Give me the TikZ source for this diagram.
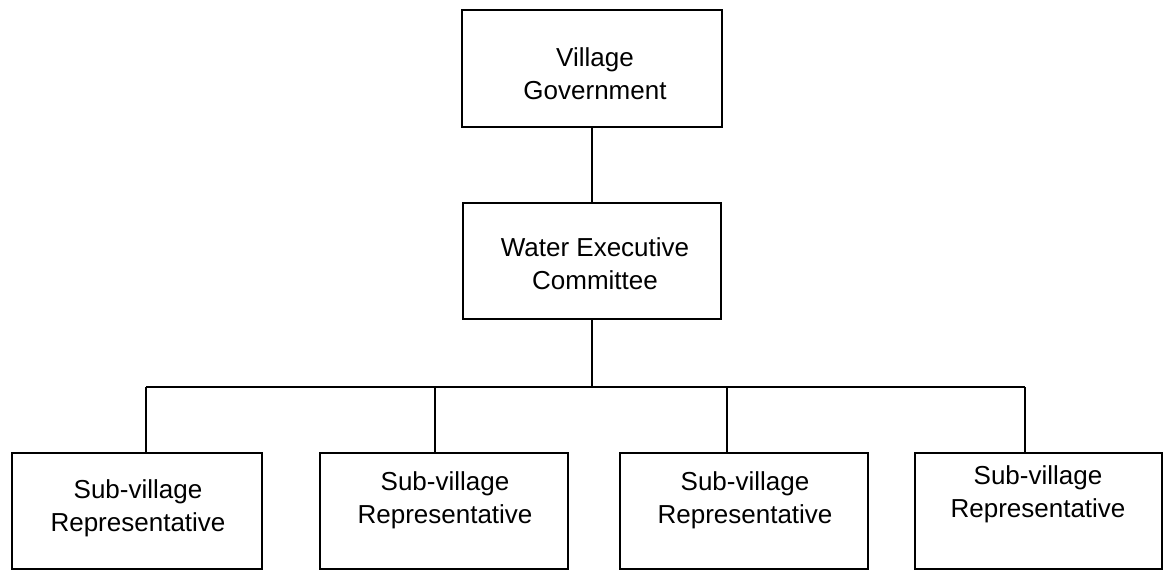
\documentclass[tikz,border=0pt]{standalone}
\usepackage{fontspec}
\setmainfont{Liberation Sans}
\begin{document}
\begin{tikzpicture}[x=1pt,y=1pt,
  box/.style={draw=black, line width=2pt, inner sep=0pt},
  txt/.style={align=center, inner sep=0pt, font=\fontsize{26}{33}\selectfont},
  link/.style={draw=black, line width=1.8pt}]
\useasboundingbox (0,0) rectangle (1164,571);

% upper levels
\node[box, minimum width=260, minimum height=117] (vg) at (592,502.5) {};
\node[txt] (vgt) at (595,497) {Village\\Government};
\node[box, minimum width=258, minimum height=116] (wec) at (592,310) {};
\node[txt] (wect) at (595,307) {Water Executive\\Committee};

% sub-village boxes
\node[box, minimum width=250, minimum height=116] (s1) at (137,60) {};
\node[box, minimum width=248, minimum height=116] (s2) at (444,60) {};
\node[box, minimum width=248, minimum height=116] (s3) at (744,60) {};
\node[box, minimum width=247, minimum height=116] (s4) at (1038.5,60) {};
\node[txt] (s1t) at (138,63) {Sub-village\\Representative};
\node[txt] (s2t) at (445,71) {Sub-village\\Representative};
\node[txt] (s3t) at (745,71) {Sub-village\\Representative};
\node[txt] (s4t) at (1038,77) {Sub-village\\Representative};

% bus and drop points
\coordinate (j1) at (146,184);
\coordinate (j2) at (435,184);
\coordinate (j3) at (727,184);
\coordinate (j4) at (1025,184);
\coordinate (w0) at (592,184);

\draw[link] (vg.south) -- (wec.north);
\draw[link] (wec.south) -- (w0);
\draw[link] (j1) -- (j4);
\draw[link] (j1) -- (j1 |- s1.north);
\draw[link] (j2) -- (j2 |- s2.north);
\draw[link] (j3) -- (j3 |- s3.north);
\draw[link] (j4) -- (j4 |- s4.north);
\end{tikzpicture}
\end{document}
